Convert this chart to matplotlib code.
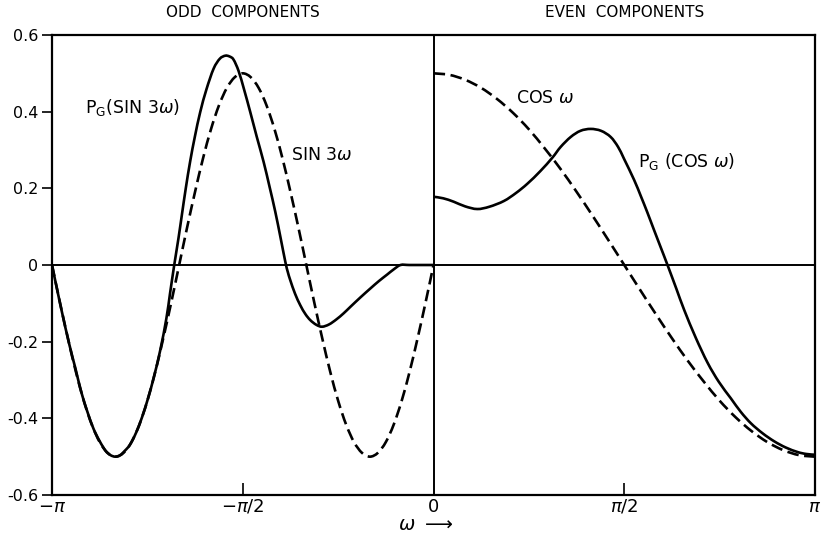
import numpy as np
import matplotlib
matplotlib.use("Agg")
import matplotlib.pyplot as plt
from matplotlib.path import Path
from matplotlib.patches import PathPatch

PI = np.pi

# ---- data ----
# Odd components (omega in [-pi, 0])
sin3_x = [-PI + k * PI / 48 for k in range(49)]
sin3_y = [0, -0.098, -0.191, -0.278, -0.354, -0.416, -0.462, -0.490, -0.5,
          -0.490, -0.462, -0.416, -0.354, -0.278, -0.191, -0.098, 0,
          0.098, 0.191, 0.278, 0.354, 0.416, 0.462, 0.490, 0.5,
          0.490, 0.462, 0.416, 0.354, 0.278, 0.191, 0.098, 0,
          -0.098, -0.191, -0.278, -0.354, -0.416, -0.462, -0.490, -0.5,
          -0.490, -0.462, -0.416, -0.354, -0.278, -0.191, -0.098, 0]

pg_sin_x = [-3.1416, -3.07, -3.0, -2.95, -2.9, -2.85, -2.8, -2.75, -2.7, -2.66, -2.62,
            -2.58, -2.54, -2.5, -2.45, -2.4, -2.35, -2.3, -2.25, -2.2, -2.17, -2.135,
            -2.10, -2.072, -2.04, -2.004, -1.965, -1.921, -1.87, -1.811, -1.76, -1.715,
            -1.68, -1.647, -1.605, -1.56, -1.509, -1.455, -1.399, -1.35, -1.303, -1.26,
            -1.22, -1.20, -1.179, -1.14, -1.097, -1.055, -1.014, -0.965, -0.918, -0.86, -0.80,
            -0.74, -0.684, -0.60, -0.519, -0.45, -0.382, -0.33, -0.272, -0.2, -0.1, 0.0]
pg_sin_y = [0.0, -0.108, -0.206, -0.268, -0.332, -0.383, -0.427, -0.459, -0.485, -0.496, -0.5,
            -0.496, -0.484, -0.469, -0.438, -0.397, -0.347, -0.289, -0.222, -0.140, -0.075, 0.0,
            0.070, 0.131, 0.200, 0.270, 0.335, 0.399, 0.458, 0.512, 0.538, 0.546,
            0.544, 0.536, 0.506, 0.458, 0.399, 0.334, 0.269, 0.204, 0.139, 0.072,
            0.008, -0.018, -0.040, -0.075, -0.105, -0.128, -0.144, -0.156, -0.161, -0.155, -0.142,
            -0.126, -0.109, -0.084, -0.061, -0.042, -0.025, -0.012, 0.0, 0.0, 0.0, 0.0]

# Even components (omega in [0, pi])
cos_x = [k * PI / 24 for k in range(25)]
cos_y = [0.5, 0.496, 0.483, 0.462, 0.433, 0.397, 0.354, 0.304, 0.25, 0.191, 0.129,
         0.065, 0.0, -0.065, -0.129, -0.191, -0.25, -0.304, -0.354, -0.397, -0.433,
         -0.462, -0.483, -0.496, -0.5]

pg_cos_x = [0.0, 0.08, 0.167, 0.26, 0.36, 0.46, 0.58, 0.68, 0.773, 0.88, 0.979,
            1.047, 1.13, 1.21, 1.294, 1.38, 1.459, 1.52, 1.569, 1.652, 1.707, 1.76,
            1.814, 1.87, 1.927, 2.0, 2.064, 2.16, 2.257, 2.35, 2.449, 2.53, 2.614,
            2.71, 2.806, 2.90, 2.999, 3.07, 3.1416]
pg_cos_y = [0.178, 0.174, 0.165, 0.153, 0.146, 0.152, 0.167, 0.188, 0.212, 0.245, 0.28,
            0.308, 0.334, 0.350, 0.355, 0.350, 0.334, 0.308, 0.277, 0.222, 0.180, 0.138,
            0.093, 0.047, 0.0, -0.062, -0.117, -0.190, -0.255, -0.305, -0.348, -0.383,
            -0.413, -0.439, -0.46, -0.476, -0.488, -0.493, -0.495]

xtick_vals = [-PI, -PI / 2, 0, PI / 2, PI]
xtick_labels = [r"$-\pi$", r"$-\pi/2$", "0", r"$\pi/2$", r"$\pi$"]
ytick_vals = [-0.6, -0.4, -0.2, 0, 0.2, 0.4, 0.6]
ytick_labels = ["-0.6", "-0.4", "-0.2", "0", "0.2", "0.4", "0.6"]


def smooth_path(x, y):
    """Smooth Bezier path through the given points (Catmull-Rom)."""
    pts = np.column_stack([x, y]).astype(float)
    n = len(pts)
    verts = [pts[0]]
    codes = [Path.MOVETO]
    for i in range(n - 1):
        p_prev = pts[i - 1] if i > 0 else pts[i]
        p_next2 = pts[i + 2] if i + 2 < n else pts[i + 1]
        c1 = pts[i] + (pts[i + 1] - p_prev) / 6.0
        c2 = pts[i + 1] - (p_next2 - pts[i]) / 6.0
        verts += [c1, c2, pts[i + 1]]
        codes += [Path.CURVE4] * 3
    return Path(verts, codes)


# ---- figure ----
plt.rcParams['font.family'] = ['DejaVu Sans']
plt.rcParams['mathtext.fontset'] = 'dejavusans'

fig = plt.figure(figsize=(8.22, 5.34), dpi=100)
ax = fig.add_axes([52 / 822, 1 - 495 / 534, (815 - 52) / 822, (495 - 35) / 534])

lw = 1.9
dash = (0, (4.4, 2.1))
for xs, ys, ls in [(sin3_x, sin3_y, dash), (pg_sin_x, pg_sin_y, '-'),
                   (cos_x, cos_y, dash), (pg_cos_x, pg_cos_y, '-')]:
    ax.add_patch(PathPatch(smooth_path(xs, ys), fill=False, edgecolor='black',
                           lw=lw, linestyle=ls, capstyle='butt', joinstyle='round'))

ax.axhline(0, color='black', lw=1.4)
ax.axvline(0, color='black', lw=1.4)

ax.set_xlim(-PI, PI)
ax.set_ylim(-0.6, 0.6)
for s in ax.spines.values():
    s.set_linewidth(1.6)

ax.set_yticks(ytick_vals)
ax.set_yticklabels(ytick_labels, fontsize=11.5)
ax.tick_params(axis='y', direction='out', length=7, width=1.2, pad=3)
ax.set_xticks(xtick_vals)
ax.set_xticklabels(xtick_labels, fontsize=13)
ax.tick_params(axis='x', direction='in', length=9, width=1.2, pad=2)
# hide tick marks at the ends and centre (frame/zero line there)
ax.xaxis.get_major_ticks()[0].tick1line.set_visible(False)
ax.xaxis.get_major_ticks()[2].tick1line.set_visible(False)
ax.xaxis.get_major_ticks()[4].tick1line.set_visible(False)

# titles
ax.text(-PI / 2, 0.64, "ODD  COMPONENTS", ha='center', va='bottom', fontsize=11)
ax.text(PI / 2, 0.64, "EVEN  COMPONENTS", ha='center', va='bottom', fontsize=11)

# curve labels
ax.text(-2.87, 0.41, r"P$_\mathregular{G}$(SIN 3$\omega$)", ha='left', va='center', fontsize=12.5)
ax.text(-1.17, 0.288, r"SIN 3$\omega$", ha='left', va='center', fontsize=12.5)
ax.text(0.68, 0.435, r"COS $\omega$", ha='left', va='center', fontsize=12.5)
ax.text(1.68, 0.27, r"P$_\mathregular{G}$ (COS $\omega$)", ha='left', va='center', fontsize=12.5)

# axis label
fig.text(426 / 822, 1 - 524 / 534, r"$\omega$ $\longrightarrow$", ha='center', va='center', fontsize=14)

fig.savefig("out.png", dpi=100)
